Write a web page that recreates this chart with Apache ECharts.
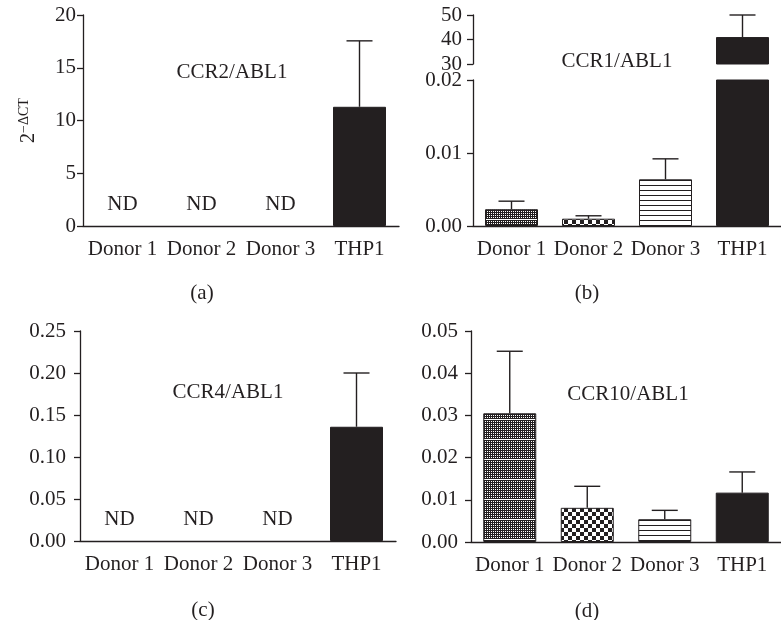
<!DOCTYPE html>
<html><head><meta charset="utf-8">
<script src="https://cdn.jsdelivr.net/npm/echarts@6/dist/echarts.min.js"></script>
<style>html,body{margin:0;padding:0;background:#fff}#c{width:781px;height:620px}</style>
</head><body><div id="c"></div>
<script>
// ---------- data ----------
const categories = ['Donor 1', 'Donor 2', 'Donor 3', 'THP1'];
// (a) CCR2/ABL1  (null = ND)
const ccr2Mean = [null, null, null, 11.3];
const ccr2Upper = [null, null, null, 17.55];
// (b) CCR1/ABL1
const ccr1Mean = [0.0023, 0.0010, 0.0064, 41];
const ccr1Upper = [0.0034, 0.0014, 0.0092, 50];
// (c) CCR4/ABL1
const ccr4Mean = [null, null, null, 0.136];
const ccr4Upper = [null, null, null, 0.200];
// (d) CCR10/ABL1
const ccr10Mean = [0.0305, 0.0081, 0.0054, 0.0117];
const ccr10Upper = [0.0452, 0.0132, 0.0075, 0.0166];
const panelTitles = ['CCR2/ABL1', 'CCR1/ABL1', 'CCR4/ABL1', 'CCR10/ABL1'];
const panelLetters = ['(a)', '(b)', '(c)', '(d)'];
const yAxisName = ['2', '\u2212\u0394CT'];

// ---------- styles ----------
const INK = '#231f20';
const FONT = '"Liberation Serif", "Times New Roman", serif';
const FS = 21;

function makePattern(w, h, fn) {
  const c = document.createElement('canvas');
  c.width = w; c.height = h;
  const ctx = c.getContext('2d');
  ctx.fillStyle = '#fff'; ctx.fillRect(0, 0, w, h);
  ctx.fillStyle = INK;
  for (let y = 0; y < h; y++) for (let x = 0; x < w; x++) if (fn(x, y)) ctx.fillRect(x, y, 1, 1);
  return { image: c, repeat: 'repeat' };
}
const fills = [
  makePattern(4, 20, (x, y) => y !== 19 && !((x % 2 === 1) && (y % 2 === 1))),
  makePattern(8, 8, (x, y) => ((Math.floor(x / 4) + Math.floor(y / 4)) % 2 === 0)),
  makePattern(1, 5, (x, y) => y === 0),
  INK
];

function barData(vals) {
  return vals.map((v, i) => ({ value: v, itemStyle: { color: fills[i] } }));
}
function errData(means, uppers, filt) {
  const out = [];
  means.forEach((m, i) => { if (m !== null && (!filt || filt(m, uppers[i]))) out.push([i, m, uppers[i]]); });
  return out;
}
function ndData(means) {
  const out = [];
  means.forEach((m, i) => { if (m === null) out.push([i, 0]); });
  return out;
}

function errRender(params, api) {
  const p0 = api.coord([api.value(0), api.value(1)]);
  const p1 = api.coord([api.value(0), api.value(2)]);
  const st = { stroke: INK, lineWidth: 1.4 };
  return { type: 'group', children: [
    { type: 'line', shape: { x1: p0[0], y1: p0[1], x2: p1[0], y2: p1[1] }, style: st },
    { type: 'line', shape: { x1: p1[0] - 13, y1: p1[1], x2: p1[0] + 13, y2: p1[1] }, style: st }
  ]};
}
function ndRender(params, api) {
  const p = api.coord([api.value(0), api.value(1)]);
  return { type: 'text', x: p[0], y: p[1] - 22,
    style: { text: 'ND', fill: INK, font: FS + 'px ' + FONT, align: 'center', verticalAlign: 'middle' } };
}

const axisLineStyle = { color: INK, width: 1.3 };
function xAxis(grid, show) {
  return {
    type: 'category', gridIndex: grid, data: categories, show: show !== false,
    axisLine: { lineStyle: axisLineStyle },
    axisTick: { alignWithLabel: true, length: 5, lineStyle: axisLineStyle },
    axisLabel: { interval: 0, fontFamily: FONT, fontSize: FS, color: INK, margin: 13 }
  };
}
function yAxis(grid, min, max, interval, margin, digits, extra) {
  return Object.assign({
    type: 'value', gridIndex: grid, min: min, max: max, interval: interval,
    axisLine: { show: true, lineStyle: axisLineStyle },
    axisTick: { show: true, length: 6, lineStyle: axisLineStyle },
    splitLine: { show: false },
    axisLabel: { fontFamily: FONT, fontSize: FS, color: INK, margin: margin,
      formatter: v => v.toFixed(digits) }
  }, extra || {});
}
const barCommon = { type: 'bar', barWidth: 53, clip: true,
  itemStyle: { borderColor: INK, borderWidth: 1 }, animation: false };

const option = {
  animation: false,
  backgroundColor: '#fff',
  grid: [
    { left: 83, top: 15, width: 316, height: 211 },   // a
    { left: 473, top: 15, width: 314, height: 49 },   // b upper
    { left: 473, top: 80, width: 314, height: 146 },  // b lower
    { left: 80, top: 331, width: 316, height: 210 },  // c
    { left: 471, top: 331, width: 318, height: 211 }  // d
  ],
  xAxis: [xAxis(0), xAxis(1, false), xAxis(2), xAxis(3), xAxis(4)],
  yAxis: [
    yAxis(0, 0, 20, 5, 7, 0, {
      name: '{b|' + yAxisName[0] + '}{s|' + yAxisName[1] + '}',
      nameLocation: 'middle', nameRotate: 90, nameGap: 42,
      nameTextStyle: { fontFamily: FONT, fontSize: 20, color: INK, rich: {
        b: { fontFamily: FONT, fontSize: 20, lineHeight: 24, color: INK },
        s: { fontFamily: FONT, fontSize: 14, lineHeight: 14, verticalAlign: 'top', color: INK } } }
    }),
    yAxis(1, 30, 50, 10, 11, 0),
    yAxis(2, 0, 0.02, 0.01, 11, 2),
    yAxis(3, 0, 0.25, 0.05, 14, 2),
    yAxis(4, 0, 0.05, 0.01, 13, 2)
  ],
  series: [
    Object.assign({}, barCommon, { xAxisIndex: 0, yAxisIndex: 0, data: barData(ccr2Mean) }),
    Object.assign({}, barCommon, { xAxisIndex: 1, yAxisIndex: 1, data: barData(ccr1Mean) }),
    Object.assign({}, barCommon, { xAxisIndex: 2, yAxisIndex: 2, data: barData(ccr1Mean) }),
    Object.assign({}, barCommon, { xAxisIndex: 3, yAxisIndex: 3, data: barData(ccr4Mean) }),
    Object.assign({}, barCommon, { xAxisIndex: 4, yAxisIndex: 4, data: barData(ccr10Mean) }),
    { type: 'custom', xAxisIndex: 0, yAxisIndex: 0, renderItem: errRender, data: errData(ccr2Mean, ccr2Upper), z: 5, clip: false },
    { type: 'custom', xAxisIndex: 1, yAxisIndex: 1, renderItem: errRender, data: errData(ccr1Mean, ccr1Upper, (m, u) => m > 0.02), z: 5, clip: false },
    { type: 'custom', xAxisIndex: 2, yAxisIndex: 2, renderItem: errRender, data: errData(ccr1Mean, ccr1Upper, (m, u) => u <= 0.02), z: 5, clip: false },
    { type: 'custom', xAxisIndex: 3, yAxisIndex: 3, renderItem: errRender, data: errData(ccr4Mean, ccr4Upper), z: 5, clip: false },
    { type: 'custom', xAxisIndex: 4, yAxisIndex: 4, renderItem: errRender, data: errData(ccr10Mean, ccr10Upper), z: 5, clip: false },
    { type: 'custom', xAxisIndex: 0, yAxisIndex: 0, renderItem: ndRender, data: ndData(ccr2Mean), z: 5, clip: false },
    { type: 'custom', xAxisIndex: 3, yAxisIndex: 3, renderItem: ndRender, data: ndData(ccr4Mean), z: 5, clip: false }
  ],
  graphic: [
    [panelTitles[0], 232, 72], [panelTitles[1], 617, 61], [panelTitles[2], 228, 392], [panelTitles[3], 628, 394],
    [panelLetters[0], 202, 293], [panelLetters[1], 587, 293], [panelLetters[2], 203, 610], [panelLetters[3], 587, 611]
  ].map(t => ({ type: 'text', x: t[1], y: t[2],
    style: { text: t[0], fill: INK, font: FS + 'px ' + FONT, align: 'center', verticalAlign: 'middle' } }))
};
const chart = echarts.init(document.getElementById('c'), null, { renderer: 'canvas' });
chart.setOption(option);
</script></body></html>
